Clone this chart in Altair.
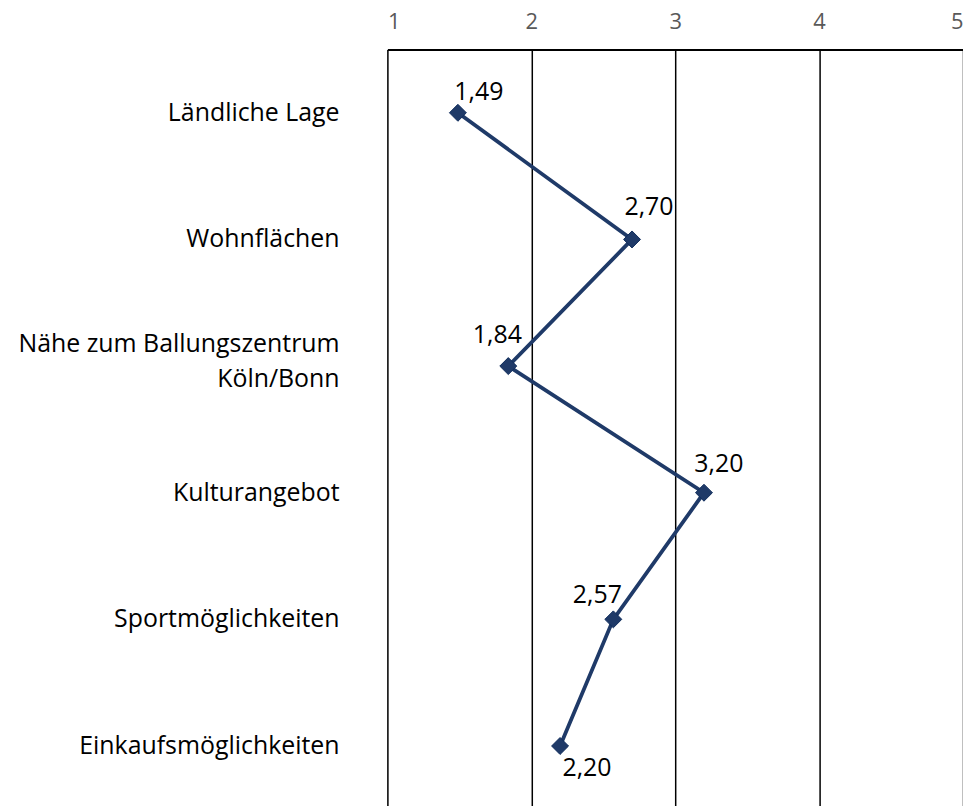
import altair as alt
import pandas as pd

# Bewertung der Standortfaktoren (Mittelwerte, Skala 1-5)
categories = [
    "Ländliche Lage",
    "Wohnflächen",
    "Nähe zum Ballungszentrum|Köln/Bonn",
    "Kulturangebot",
    "Sportmöglichkeiten",
    "Einkaufsmöglichkeiten",
]
values = [1.49, 2.70, 1.84, 3.20, 2.57, 2.20]
x_ticks = [1, 2, 3, 4, 5]

df = pd.DataFrame({"kategorie": categories, "wert": values, "idx": range(len(values))})
df["label"] = [f"{v:.2f}".replace(".", ",") for v in values]

FONT = "Open Sans"
NAVY = "#1f3a68"
FS = 25

x = alt.X(
    "wert:Q",
    scale=alt.Scale(domain=[1, 5], nice=False, zero=False),
    axis=alt.Axis(
        orient="top", values=x_ticks, format="d", title=None,
        domain=True, domainColor="#000000", domainWidth=2,
        ticks=False, grid=True, gridColor="#000000", gridWidth=1.5,
        labelFont=FONT, labelFontSize=22, labelColor="#595959", labelPadding=16,
    ),
)
y = alt.Y(
    "kategorie:N",
    sort=categories,
    scale=alt.Scale(paddingInner=0, paddingOuter=0),
    axis=None,
)

base = alt.Chart(df).transform_calculate(
    zeile1="split(datum.kategorie, '|')[0]",
    zeile2="split(datum.kategorie, '|')[1]",
    mehrzeilig="indexof(datum.kategorie, '|') >= 0",
)

# Kategorienbeschriftung links der Zeichenfläche (ein- und zweizeilig)
def cat_text(field, cond, dy):
    return (
        base.transform_filter(cond)
        .mark_text(font=FONT, fontSize=FS, color="#000000", align="right",
                   baseline="middle", dy=dy)
        .encode(x=alt.value(-48), y=y, text=f"{field}:N")
    )

cat_single = cat_text("zeile1", "!datum.mehrzeilig", 0)
cat_first = cat_text("zeile1", "datum.mehrzeilig", -22)
cat_second = cat_text("zeile2", "datum.mehrzeilig", 13)

line = base.mark_line(color=NAVY, strokeWidth=3.8).encode(x=x, y=y, order="idx:Q")
points = base.mark_point(
    shape="diamond", filled=True, size=290, color=NAVY, opacity=1,
    stroke="#0f2c5c", strokeWidth=1,
).encode(x=x, y=y)

# individuelle Position der Wertebeschriftungen
offsets = [(21, -21), (17, -33), (-11, -31), (15, -29), (-16, -24), (27, 22)]
texts = []
for i, (dx, dy) in enumerate(offsets):
    texts.append(
        base.transform_filter(alt.datum.idx == i)
        .mark_text(font=FONT, fontSize=FS, color="#000000", dx=dx, dy=dy,
                   align="center", baseline="middle")
        .encode(x=x, y=y, text="label:N")
    )

chart = (
    alt.layer(cat_single, cat_first, cat_second, line, points, *texts)
    .properties(
        width=578, height=763,
        autosize=alt.AutoSizeParams(type="none"),
        padding={"left": 389, "top": 48, "right": 0, "bottom": 0},
    )
    .configure_view(stroke=None)
    .configure(background="#ffffff")
)

chart.save("out.html", embed_options={"renderer": "svg", "actions": False})
